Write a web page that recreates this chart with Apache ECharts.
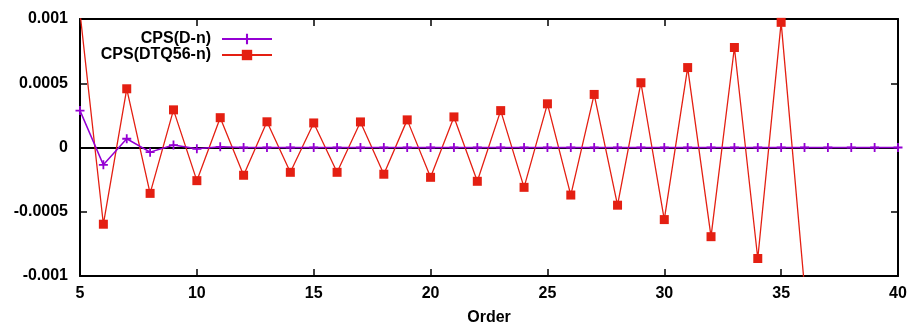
<!DOCTYPE html>
<html><head><meta charset="utf-8">
<script src="https://cdn.jsdelivr.net/npm/echarts@6/dist/echarts.min.js"></script>
<style>html,body{margin:0;padding:0;background:#fff;overflow:hidden}#c{width:911px;height:326px}</style>
</head><body><div id="c"></div>
<script>
const ordersD = [5,6,7,8,9,10,11,12,13,14,15,16,17,18,19,20,21,22,23,24,25,26,27,28,29,30,31,32,33,34,35,36,37,38,39,40];
const cpsD = [0.000287,-0.000135,0.000068,-0.000036,0.000019,-0.00001,0.000005,0,0,0,0,0,0,0,0,0,0,0,0,0,0,0,0,0,0,0,0,0,0,0,0,0,0,0,0,0];
const ordersDTQ = [5,6,7,8,9,10,11,12,13,14,15,16,17,18,19,20,21,22,23,24,25,26,27,28,29,30,31,32,33,34,35,36];
const cpsDTQ = [0.00105,-0.000597,0.000457,-0.000357,0.000293,-0.000258,0.000232,-0.000216,0.000200,-0.000193,0.000191,-0.000193,0.000199,-0.000208,0.000215,-0.000232,0.000238,-0.000263,0.000287,-0.00031,0.00034,-0.00037,0.000413,-0.000449,0.000504,-0.000561,0.000622,-0.000694,0.000778,-0.000864,0.000974,-0.00109];
const xTicks = {min:5, max:40, interval:5};
const yTicks = {min:-0.001, max:0.001, interval:0.0005};
const nameD = 'CPS(D-n)';
const nameDTQ = 'CPS(DTQ56-n)';

const FONT = '"Liberation Sans", Arial, sans-serif';
const txt = {fontFamily: FONT, fontSize: 16, fontWeight: 'bold', color: '#000'};
const plus = 'path://M-0.2,-1H0.2V-0.2H1V0.2H0.2V1H-0.2V0.2H-1V-0.2H-0.2Z';
const purple = '#9400d3', red = '#e41f12';

function xAx(pos, lab) {
  return {type:'value', position:pos, min:xTicks.min, max:xTicks.max, interval:xTicks.interval,
    axisLine:{show:true, onZero:false, lineStyle:{color:'#000', width:2}},
    axisTick:{show:true, inside:true, length:7, lineStyle:{color:'#000', width:1.5}},
    axisLabel:Object.assign({show:lab, margin:10}, txt),
    splitLine:{show:false},
    name: lab ? 'Order' : '', nameLocation:'middle', nameGap:34, nameTextStyle:txt};
}
function yAx(pos, lab) {
  return {type:'value', position:pos, min:yTicks.min, max:yTicks.max, interval:yTicks.interval,
    axisLine:{show:true, onZero:false, lineStyle:{color:'#000', width:2}},
    axisTick:{show:true, inside:true, length:7, lineStyle:{color:'#000', width:1.5}},
    axisLabel:Object.assign({show:lab, margin:12}, txt),
    splitLine:{show:false}};
}
const chart = echarts.init(document.getElementById('c'));
chart.setOption({
  animation:false,
  backgroundColor:'#fff',
  grid:{left:80, right:13, top:19, bottom:50, containLabel:false, outerBoundsMode:'none'},
  xAxis:[xAx('bottom', true), xAx('top', false)],
  yAxis:[yAx('left', true), yAx('right', false)],
  legend:[
    {data:[nameD], orient:'vertical', align:'right', right:638, top:31, padding:0,
     itemWidth:50, itemHeight:13, textStyle:Object.assign({padding:[0,6,0,0]}, txt)},
    {data:[nameDTQ], orient:'vertical', align:'right', right:638, top:47, padding:0,
     itemWidth:50, itemHeight:13, textStyle:Object.assign({padding:[0,6,0,0]}, txt)}
  ],
  series:[
    {name:nameDTQ, type:'line', data:ordersDTQ.map((x,i)=>[x,cpsDTQ[i]]),
     symbol:'rect', symbolSize:9, clip:true,
     lineStyle:{color:red, width:1.3}, itemStyle:{color:red},
     markLine:{silent:true, z:1, symbol:['none','none'], label:{show:false},
       lineStyle:{color:'#000', width:2, type:'solid'}, data:[{yAxis:0}]}},
    {name:nameD, type:'line', data:ordersD.map((x,i)=>[x,cpsD[i]]),
     symbol:plus, symbolSize:9, clip:true,
     lineStyle:{color:purple, width:1.5}, itemStyle:{color:purple}}
  ]
});
</script></body></html>
